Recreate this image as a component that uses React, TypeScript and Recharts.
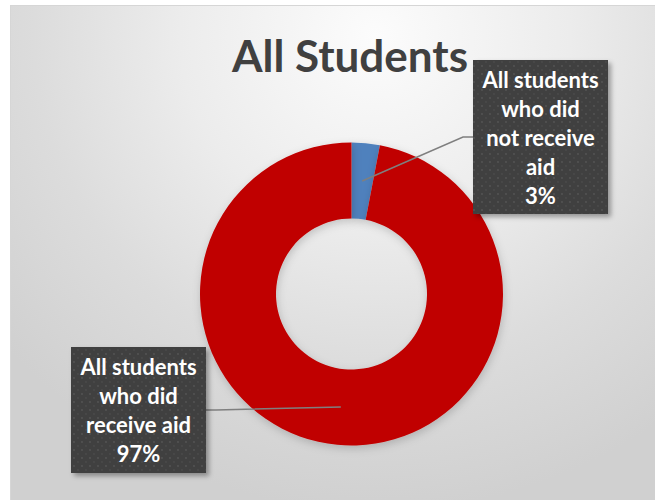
import { PieChart, Pie, Cell } from 'recharts';

// line breaks follow the wrapping of the original data labels
const categories = ['All students\nwho did\nnot receive\naid', 'All students\nwho did\nreceive aid'];
const values = [3, 97];
const colors = ['#4F81BD', '#C00000'];
const title = 'All Students';

const chartData = categories.map((name, i) => ({ name, value: values[i] }));

// label box placement, relative to the pie centre
const labelBoxes = [
  { dx: 121.5, dy: -234, w: 135, h: 154, side: 'left' },
  { dx: -280.5, dy: 53, w: 135, h: 126, side: 'right' },
];

const RADIAN = Math.PI / 180;
const LINE_H = 29;
const FONT = 'Lato, "Open Sans", sans-serif';

const renderLabel = (props: any) => {
  const { cx, cy, midAngle, innerRadius, outerRadius, percent, name, index } = props;
  const box = labelBoxes[index];
  const r = (innerRadius + outerRadius) / 2;
  const ax = cx + r * Math.cos(-midAngle * RADIAN);
  const ay = cy + r * Math.sin(-midAngle * RADIAN);
  const left = cx + box.dx;
  const top = cy + box.dy;
  const midY = top + box.h / 2;
  const edgeX = box.side === 'left' ? left : left + box.w;
  const elbowX = box.side === 'left' ? edgeX - 10 : edgeX + 10;
  const lines = [...String(name).split('\n'), `${Math.round(percent * 100)}%`];
  const firstY = midY - ((lines.length - 1) * LINE_H) / 2;

  return (
    <g key={`lbl-${index}`}>
      <polyline
        points={`${ax},${ay} ${elbowX},${midY} ${edgeX},${midY}`}
        fill="none"
        stroke="#7f7f7f"
        strokeWidth={1.5}
      />
      <rect x={left} y={top} width={box.w} height={box.h} fill="#404040" filter="url(#boxShadow)" />
      <rect x={left} y={top} width={box.w} height={box.h} fill="url(#dots)" />
      {lines.map((ln, i) => (
        <text
          key={i}
          x={left + box.w / 2}
          y={firstY + i * LINE_H}
          textAnchor="middle"
          dominantBaseline="central"
          fill="#ffffff"
          fontFamily={FONT}
          fontWeight="bold"
          fontSize={22}
        >
          {ln}
        </text>
      ))}
    </g>
  );
};

export default function App() {
  return (
    <div style={{ position: 'absolute', left: 0, top: 0, width: 655, height: 500, background: '#fff', overflow: 'hidden' }}>
      <div
        style={{
          position: 'absolute',
          left: 10,
          top: 5,
          width: 650,
          height: 500,
          borderLeft: '1px solid #d6d6d6',
          borderTop: '1px solid #d6d6d6',
          background: 'radial-gradient(ellipse 75% 95% at 56% 6%, #fcfcfc 0%, #ececec 40%, #dcdcdc 70%, #d0d0d0 100%)',
        }}
      />
      <svg width={655} height={500} style={{ position: 'absolute', left: 0, top: 0 }}>
        <defs>
          <filter id="boxShadow" x="-20%" y="-20%" width="150%" height="150%">
            <feDropShadow dx="3" dy="3" stdDeviation="2.5" floodColor="#000" floodOpacity="0.35" />
          </filter>
          <filter id="ringShadow" x="-20%" y="-20%" width="140%" height="140%">
            <feDropShadow dx="1" dy="3" stdDeviation="4" floodColor="#000" floodOpacity="0.18" />
          </filter>
          <pattern id="dots" width="8" height="8" patternUnits="userSpaceOnUse">
            <circle cx="2" cy="2" r="0.9" fill="#555555" />
            <circle cx="6" cy="6" r="0.9" fill="#4a4a4a" />
          </pattern>
        </defs>
        <text
          x={350}
          y={72}
          textAnchor="middle"
          fill="#404040"
          fontFamily={FONT}
          fontWeight="bold"
          fontSize={44}
        >
          {title}
        </text>
      </svg>
      <div style={{ position: 'absolute', left: 0, top: 0 }}>
        <PieChart width={655} height={500} margin={{ top: 0, right: 0, bottom: 0, left: 0 }}>
          <Pie
            data={chartData}
            dataKey="value"
            nameKey="name"
            cx={351.5}
            cy={294}
            innerRadius={75.5}
            outerRadius={151.5}
            startAngle={90}
            endAngle={-270}
            stroke="none"
            label={renderLabel}
            labelLine={false}
            isAnimationActive={false}
          >
            {chartData.map((d, i) => (
              <Cell key={d.name} fill={colors[i]} filter="url(#ringShadow)" />
            ))}
          </Pie>
        </PieChart>
      </div>
    </div>
  );
}
